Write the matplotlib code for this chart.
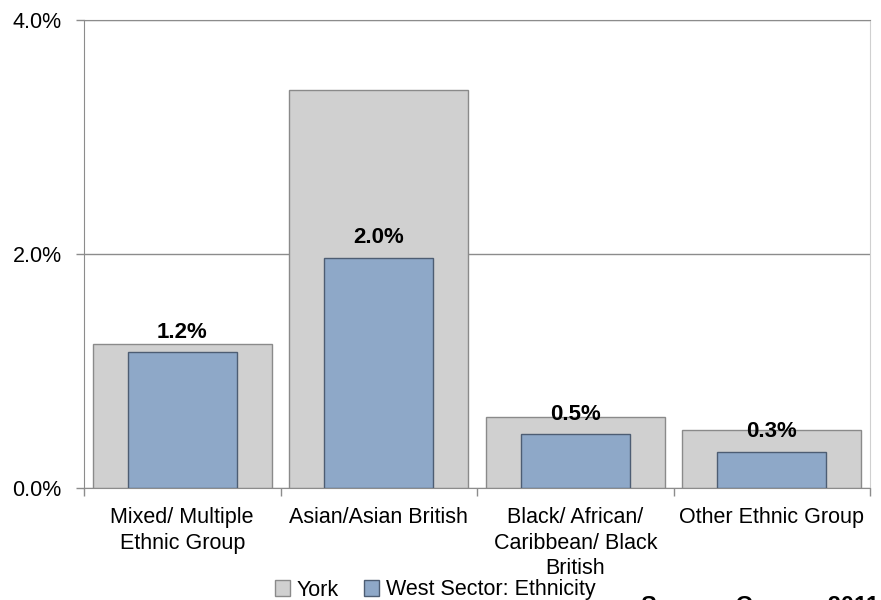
import matplotlib
matplotlib.use("Agg")
import matplotlib.pyplot as plt
import numpy as np

plt.rcParams['font.family'] = ['Liberation Sans', 'DejaVu Sans']

# data
categories = ["Mixed/ Multiple\nEthnic Group", "Asian/Asian British",
              "Black/ African/\nCaribbean/ Black\nBritish", "Other Ethnic Group"]
york = [1.23, 3.40, 0.61, 0.50]
west = [1.16, 1.97, 0.46, 0.31]
west_labels = ["1.2%", "2.0%", "0.5%", "0.3%"]
y_ticks = [0, 2, 4]

grey = "#d0d0d0"
blue = "#8ea8c8"
axis_col = "#8c8c8c"

fig = plt.figure(figsize=(8.81, 6), dpi=100)
ax = fig.add_axes([84 / 881, 112 / 600, 786 / 881, 468 / 600])

x = np.arange(len(categories))
ax.bar(x, york, width=0.91, color=grey, edgecolor="#8a8a8a", linewidth=1,
       label="York", zorder=2)
ax.bar(x, west, width=0.555, color=blue, edgecolor="#4d5d73", linewidth=1,
       label="West Sector: Ethnicity", zorder=3)

for xi, v, lab in zip(x, west, west_labels):
    ax.annotate(lab, (xi, v), xytext=(0, 14.5), textcoords="offset points",
                ha="center", va="center", fontsize=16, fontweight="bold",
                zorder=4)

ax.set_xlim(-0.5, len(categories) - 0.5)
ax.set_ylim(0, 4)
ax.set_yticks(y_ticks)
ax.set_yticklabels([f"{t:.1f}%" for t in y_ticks])
ax.yaxis.grid(True, color=axis_col, linewidth=1, zorder=0)
ax.set_axisbelow(True)

ax.set_xticks(x)
ax.set_xticklabels(categories, linespacing=1.3)
ax.set_xticks(np.arange(-0.5, len(categories)), minor=True)
ax.tick_params(axis="x", which="major", length=0, pad=13.5, labelsize=15.5)
ax.tick_params(axis="x", which="minor", length=6, color=axis_col, width=1)
ax.tick_params(axis="y", length=6, color=axis_col, width=1, pad=10,
               labelsize=15.5)

for side in ["left", "bottom", "top"]:
    ax.spines[side].set_color(axis_col)
ax.spines["right"].set_color("#d0d0d0")

fig.legend(loc="center", bbox_to_anchor=(435 / 881, 1 - 590 / 600), ncol=2,
           frameon=False, fontsize=15.5, handlelength=0.7, handleheight=0.7,
           handletextpad=0.3, columnspacing=1.2, borderpad=0)

# source note sits mostly below the bottom edge, as in the original
fig.text(641 / 881, -13 / 600, "Source: Census 2011", fontsize=17,
         fontweight="bold", va="baseline", ha="left")

fig.savefig("out.png", dpi=100)
